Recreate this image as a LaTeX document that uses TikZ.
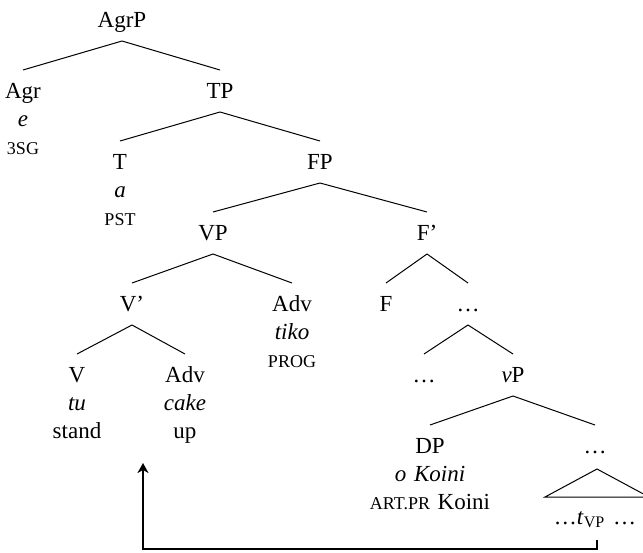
\documentclass[tikz,border=0pt]{standalone}
\usepackage{fontspec}
\setmainfont{Liberation Serif}
\usepackage{tikz}
\usetikzlibrary{arrows.meta}

\newcommand{\glsc}[1]{{\fontsize{9}{14}\selectfont\MakeUppercase{#1}}}
\newcommand{\branch}[2]{\draw[branch] ([yshift=-7pt]#1.base) -- ([yshift=14pt]#2.base);}

\tikzset{
  cat/.style={anchor=base, inner sep=0pt, text width=90pt, align=center, font=\fontsize{11.5}{14}\selectfont},
  branch/.style={line width=0.5pt},
  move/.style={line width=1.2pt, -{Stealth[length=5pt,width=5.5pt,inset=1.5pt]}},
}

\begin{document}
\begin{tikzpicture}[x=0.5pt,y=-0.5pt]
    \clip (0,0) rectangle (643,552);

    % categories and words
    \node[cat] (agrp) at (122,27) {AgrP};
    \node[cat] (agr) at (23,98) {Agr\\\textit{e}\\\glsc{3sg}};
    \node[cat] (tp) at (220,98) {TP};
    \node[cat] (t) at (120,169) {T\\\textit{a}\\\glsc{pst}};
    \node[cat] (fp) at (320,169) {FP};
    \node[cat] (vp) at (213,240) {VP};
    \node[cat] (fbar) at (427,240) {F'};
    \node[cat] (vbar) at (132,311) {V'};
    \node[cat] (advprog) at (292,311) {Adv\\\textit{tiko}\\\glsc{prog}};
    \node[cat] (f) at (386,311) {F};
    \node[cat] (fdots) at (468,311) {\dots};
    \node[cat] (v) at (77,382) {V\\\textit{tu}\\stand};
    \node[cat] (advup) at (185,382) {Adv\\\textit{cake}\\up};
    \node[cat] (ldots) at (424,382) {\dots};
    \node[cat] (littlevp) at (513,382) {\textit{v}P};
    \node[cat] (dp) at (430,453) {DP\\\textit{o Koini}\\\glsc{art.pr} Koini};
    \node[cat] (rdots) at (595,453) {\dots};
    \node[cat] (trace) at (595,524) {\dots\textit{t}\textsubscript{VP} \dots};

    % branches
    \branch{agrp}{agr}
    \branch{agrp}{tp}
    \branch{tp}{t}
    \branch{tp}{fp}
    \branch{fp}{vp}
    \branch{fp}{fbar}
    \branch{vp}{vbar}
    \branch{vp}{advprog}
    \branch{vbar}{v}
    \branch{vbar}{advup}
    \branch{fbar}{f}
    \branch{fbar}{fdots}
    \branch{fdots}{ldots}
    \branch{fdots}{littlevp}
    \branch{littlevp}{dp}
    \branch{littlevp}{rdots}

    % triangle over the trace
    \draw[branch] ([xshift=1pt,yshift=-8pt]rdots.base) -- ([xshift=-25pt,yshift=-22pt]rdots.base)
        -- ([xshift=27pt,yshift=-22pt]rdots.base) -- cycle;

    % movement
    \coordinate (tsite) at (597,540);
    \coordinate (landing) at (143,463);
    \draw[move] (tsite) -- ++(0,9) -| (landing);
\end{tikzpicture}
\end{document}
